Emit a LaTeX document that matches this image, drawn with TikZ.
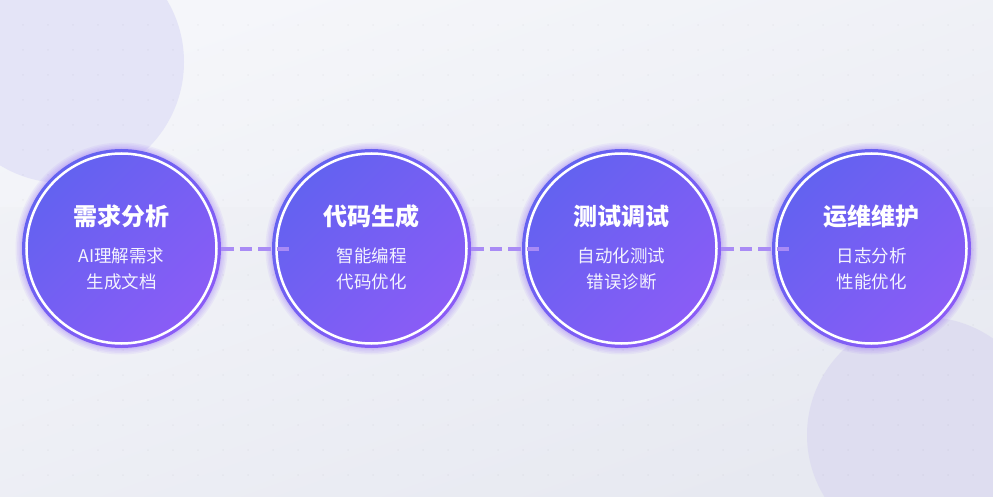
\documentclass[tikz,border=0pt]{standalone}
\usepackage{fontspec}
\setmainfont{Noto Sans CJK SC}
\usetikzlibrary{positioning,calc}
\definecolor{bgTop}{HTML}{F5F6FA}
\definecolor{bgBot}{HTML}{E7E9F1}
\definecolor{blobA}{HTML}{E4E4F7}
\definecolor{blobB}{HTML}{DCDAF0}
\definecolor{stageA}{HTML}{6262F0}
\definecolor{stageB}{HTML}{8B5CF6}
\definecolor{linkC}{HTML}{A98BF5}

\begin{document}
\begin{tikzpicture}[x=1pt,y=-1pt,
    stage/.style={circle,minimum size=199pt,inner sep=0pt,outer sep=0pt,
      top color=stageA,bottom color=stageB,shading angle=45},
    ring/.style={draw=white,line width=2.5pt},
    glow/.style={fill=stageB,fill opacity=0.08},
    title/.style={text=white,font=\fontsize{24}{28}\selectfont\bfseries},
    detail/.style={text=white!93!stageA,align=center,font=\fontsize{17.5}{26}\selectfont},
    link/.style={draw=linkC,line width=4pt,dash pattern=on 12.5pt off 6pt}]
    \useasboundingbox (0,0) rectangle (993,497);
    % Background
    \fill[top color=bgTop,bottom color=bgBot,shading angle=20] (0,0) rectangle (993,497);
    \fill[blobA] (63,62) circle (121);
    \fill[blobB,opacity=0.8] (925,435) circle (118);
    \fill[black,opacity=0.008] (0,207) rectangle (993,290);
    \foreach \i in {0,...,39}
      \foreach \j in {0,...,19}
        \fill[black,opacity=0.03] (23+25*\i,25+25*\j) circle (1);
    % Glow
    \foreach \x in {121.5,371.5,621.5,871.5}
      \foreach \g in {106,104.5,103,101.5,100.5}
        \fill[glow] (\x,248.5) circle (\g);
    % Stages
    \node[stage] (s1) at (121.5,248.5) {};
    \node[stage] (s2) at (371.5,248.5) {};
    \node[stage] (s3) at (621.5,248.5) {};
    \node[stage] (s4) at (871.5,248.5) {};
    \foreach \i in {1,...,4}
      \draw[ring] (s\i.center) circle (95);
    % Texts
    \foreach \i/\t/\a/\b in {1/需求分析/AI理解需求/生成文档,2/代码生成/智能编程/代码优化,
        3/测试调试/自动化测试/错误诊断,4/运维维护/日志分析/性能优化} {
      \node[title] (t\i) at ([yshift=32.5pt]s\i.center) {\t};
      \node[detail] (d\i) at ([yshift=-20.5pt]s\i.center) {\a\\\b};
    }
    % Links
    \draw[link] (s1.east) -- ([xshift=18pt]s2.west);
    \draw[link] (s2.east) -- ([xshift=18pt]s3.west);
    \draw[link] (s3.east) -- ([xshift=18pt]s4.west);
\end{tikzpicture}
\end{document}
